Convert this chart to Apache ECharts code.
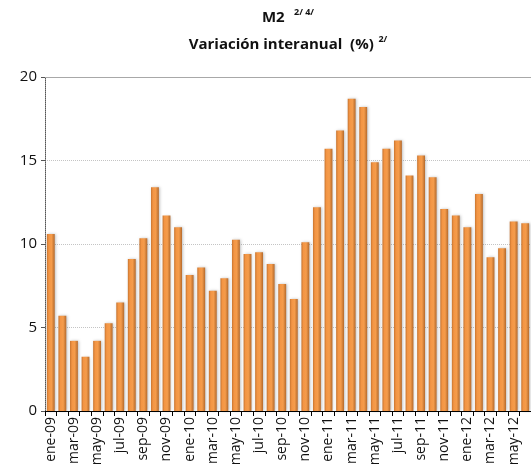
<!DOCTYPE html>
<html>
<head>
<meta charset="utf-8">
<script src="https://cdn.jsdelivr.net/npm/echarts@6/dist/echarts.min.js"></script>
<style>html,body{margin:0;padding:0;background:#fff}#c{width:531px;height:474px}</style>
</head>
<body>
<div id="c"></div>
<script>
const categories = [
  'ene-09','feb-09','mar-09','abr-09','may-09','jun-09','jul-09','ago-09','sep-09','oct-09','nov-09','dic-09',
  'ene-10','feb-10','mar-10','abr-10','may-10','jun-10','jul-10','ago-10','sep-10','oct-10','nov-10','dic-10',
  'ene-11','feb-11','mar-11','abr-11','may-11','jun-11','jul-11','ago-11','sep-11','oct-11','nov-11','dic-11',
  'ene-12','feb-12','mar-12','abr-12','may-12','jun-12'
];
const m2Values = [
  10.6, 5.7, 4.2, 3.25, 4.2, 5.25, 6.5, 9.1, 10.35, 13.4, 11.7, 11.0,
  8.15, 8.6, 7.2, 7.95, 10.25, 9.4, 9.5, 8.8, 7.6, 6.7, 10.1, 12.2,
  15.7, 16.8, 18.7, 18.2, 14.9, 15.7, 16.2, 14.1, 15.3, 14.0, 12.1, 11.7,
  11.0, 13.0, 9.2, 9.75, 11.35, 11.25
];
const yTicks = [0, 5, 10, 15, 20];

const chart = echarts.init(document.getElementById('c'), null, {renderer: 'canvas'});
const font = '"Open Sans", "Noto Sans", "Liberation Sans", sans-serif';
chart.setOption({
  animation: false,
  backgroundColor: '#ffffff',
  title: {
    left: 283, top: -1, textAlign: 'center',
    text: '{b|M2}  {s|2/ 4/}\n{b|Variación interanual  (%)} {s|2/}',
    textStyle: {
      fontFamily: font,
      lineHeight: 27,
      rich: {
        b: {fontSize: 15, fontWeight: 'bold', color: '#111', fontFamily: font, lineHeight: 27},
        s: {fontSize: 9, fontWeight: 'bold', color: '#111', fontFamily: font, lineHeight: 27, padding: [0, 0, 10, 0]}
      }
    }
  },
  grid: {left: 45, right: -8, top: 77, bottom: 63, containLabel: false},
  xAxis: {
    type: 'category',
    data: categories,
    axisLine: {show: true, lineStyle: {color: '#000', width: 1}},
    axisTick: {show: true, alignWithLabel: false, interval: 0, length: 5, lineStyle: {color: '#000'}},
    axisLabel: {interval: 1, rotate: 90, fontSize: 14, color: '#111', fontFamily: font, margin: 6}
  },
  yAxis: {
    type: 'value', min: yTicks[0], max: yTicks[yTicks.length - 1], interval: yTicks[1] - yTicks[0],
    axisLine: {show: true, lineStyle: {color: '#555', type: 'dotted'}},
    axisTick: {show: true, length: 4, lineStyle: {color: '#555'}},
    axisLabel: {fontSize: 15, color: '#111', fontFamily: font, margin: 8},
    splitLine: {show: true, lineStyle: {color: '#c4c4c4', type: 'dotted'}}
  },
  series: [{
    type: 'bar',
    data: m2Values,
    barWidth: '68%',
    itemStyle: {
      color: new echarts.graphic.LinearGradient(0, 0, 1, 0, [
        {offset: 0, color: '#c87530'},
        {offset: 0.25, color: '#f39544'},
        {offset: 0.6, color: '#f59c4b'},
        {offset: 1, color: '#b56a2c'}
      ]),
      shadowColor: 'rgba(0,0,0,0.25)', shadowBlur: 3, shadowOffsetX: 1
    },
    markLine: {
      silent: true, symbol: 'none', label: {show: false},
      lineStyle: {color: '#a8a8a8', type: 'solid', width: 1},
      data: [{yAxis: yTicks[yTicks.length - 1]}]
    }
  }]
});
</script>
</body>
</html>
